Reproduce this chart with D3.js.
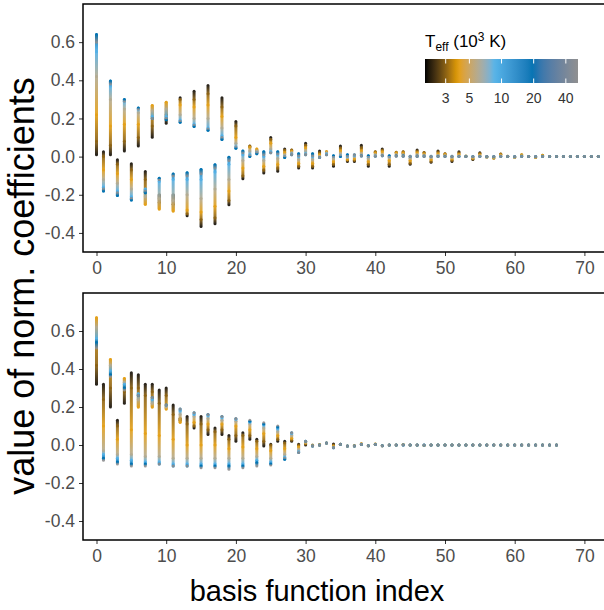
<!DOCTYPE html>
<html>
<head>
<meta charset="utf-8">
<script src="https://cdn.jsdelivr.net/npm/d3@7"></script>
<style>
  body { margin: 0; background: #fff; }
  svg text { font-family: "Liberation Sans", Arial, sans-serif; }
</style>
</head>
<body>
<svg></svg>
<script>
var teffAnchors = [2, 3, 4, 6, 9, 20, 50];

//  top panel: coefficient value per basis function, one entry per Teff anchor
var topCoefs = [
    [0.01, 0.08, 0.22, 0.42, 0.55, 0.64, 0.60],
    [0.026, 0.0, -0.07, -0.12, -0.16, -0.18, -0.17],
    [0.01, 0.06, 0.16, 0.30, 0.37, 0.396, 0.38],
    [-0.017, -0.04, -0.09, -0.14, -0.18, -0.204, -0.19],
    [0.03, 0.08, 0.17, 0.25, 0.29, 0.30, 0.29],
    [-0.038, -0.07, -0.12, -0.17, -0.21, -0.227, -0.22],
    [0.056, 0.10, 0.17, 0.23, 0.25, 0.255, 0.25],
    [-0.078, -0.12, -0.25, -0.21, -0.17, -0.19, -0.18],
    [0.102, 0.16, 0.268, 0.24, 0.21, 0.20, 0.20],
    [-0.20, -0.24, -0.274, -0.22, -0.13, -0.114, -0.12],
    [0.175, 0.22, 0.285, 0.25, 0.21, 0.193, 0.20],
    [-0.20, -0.25, -0.285, -0.23, -0.12, -0.091, -0.10],
    [0.308, 0.30, 0.27, 0.22, 0.19, 0.18, 0.185],
    [-0.31, -0.30, -0.28, -0.20, -0.12, -0.084, -0.10],
    [0.343, 0.30, 0.26, 0.20, 0.17, 0.158, 0.165],
    [-0.366, -0.33, -0.29, -0.22, -0.12, -0.068, -0.09],
    [0.373, 0.33, 0.27, 0.20, 0.15, 0.138, 0.145],
    [-0.352, -0.32, -0.26, -0.17, -0.08, -0.042, -0.06],
    [0.308, 0.26, 0.21, 0.15, 0.11, 0.09, 0.10],
    [-0.252, -0.23, -0.18, -0.12, -0.04, -0.003, -0.02],
    [0.184, 0.16, 0.10, 0.07, 0.05, 0.044, 0.05],
    [-0.116, -0.10, -0.06, -0.02, 0.01, 0.03, 0.02],
    [0.05, 0.055, 0.05, 0.03, 0.01, 0.0, 0.005],
    [0.02, 0.03, 0.04, 0.03, 0.02, 0.015, 0.02],
    [-0.086, -0.07, -0.05, -0.02, 0.0, 0.025, 0.01],
    [0.10, 0.09, 0.07, 0.04, 0.025, 0.02, 0.02],
    [-0.077, -0.06, -0.04, -0.01, 0.01, 0.025, 0.015],
    [0.04, 0.035, 0.02, 0.01, 0.0, -0.005, 0.0],
    [0.03, 0.035, 0.03, 0.02, 0.015, 0.01, 0.012],
    [-0.06, -0.05, -0.035, -0.015, 0.0, 0.015, 0.005],
    [0.07, 0.06, 0.045, 0.03, 0.015, 0.01, 0.012],
    [-0.06, -0.05, -0.035, -0.015, 0.0, 0.015, 0.005],
    [0.03, 0.02, 0.01, 0.0, -0.005, -0.005, -0.005],
    [0.02, 0.025, 0.025, 0.02, 0.015, 0.01, 0.01],
    [-0.05, -0.04, -0.025, -0.01, 0.0, 0.005, 0.0],
    [0.055, 0.045, 0.03, 0.015, 0.005, 0.0, 0.003],
    [-0.025, -0.02, -0.015, -0.005, 0.0, 0.01, 0.005],
    [-0.025, -0.02, -0.012, 0.0, 0.005, 0.01, 0.008],
    [0.06, 0.045, 0.03, 0.015, 0.005, 0.003, 0.005],
    [-0.05, -0.04, -0.025, -0.01, 0.0, 0.005, 0.002],
    [0.02, 0.025, 0.02, 0.01, 0.005, 0.002, 0.003],
    [0.04, 0.035, 0.025, 0.01, 0.005, 0.005, 0.005],
    [-0.05, -0.04, -0.02, -0.005, 0.0, 0.005, 0.002],
    [0.02, 0.023, 0.02, 0.01, 0.005, 0.003, 0.002],
    [0.015, 0.025, 0.02, 0.01, 0.004, 0.002, 0.002],
    [-0.04, -0.035, -0.02, -0.008, 0.0, 0.002, 0.001],
    [0.035, 0.03, 0.02, 0.01, 0.003, 0.001, 0.002],
    [0.02, 0.022, 0.015, 0.008, 0.003, 0.001, 0.002],
    [-0.03, -0.025, -0.015, -0.005, 0.0, 0.002, 0.001],
    [0.03, 0.025, 0.015, 0.007, 0.002, 0.0, 0.001],
    [0.012, 0.015, 0.012, 0.006, 0.002, 0.0, 0.001],
    [-0.025, -0.02, -0.012, -0.004, 0.0, 0.002, 0.001],
    [0.025, 0.02, 0.012, 0.005, 0.001, 0.0, 0.001],
    [0.0, 0.002, 0.003, 0.002, 0.001, 0.0, 0.001],
    [-0.015, -0.012, -0.008, -0.003, 0.0, 0.001, 0.001],
    [0.02, 0.017, 0.01, 0.004, 0.001, 0.0, 0.001],
    [0.0, -0.002, -0.003, -0.001, 0.0, 0.0, 0.001],
    [-0.008, -0.007, -0.005, -0.002, 0.0, 0.0, 0.001],
    [0.012, 0.014, 0.01, 0.004, 0.001, 0.0, 0.001],
    [0.001, 0.002, 0.002, 0.001, 0.001, 0.0, 0.001],
    [-0.005, -0.004, -0.003, -0.001, 0.0, 0.0, 0.001],
    [0.008, 0.01, 0.008, 0.003, 0.001, 0.0, 0.001],
    [0, 0, 0, 0, 0, 0, 0],
    [-0.004, -0.004, -0.002, 0, 0, 0, 0],
    [0.006, 0.007, 0.005, 0.002, 0, 0, 0],
    [0, 0, 0, 0, 0, 0, 0],
    [0, 0, 0, 0, 0, 0, 0],
    [0, 0, 0, 0, 0, 0, 0],
    [0, 0, 0, 0, 0, 0, 0],
    [0, 0, 0, 0, 0, 0, 0],
    [0, 0, 0, 0, 0, 0, 0],
    [0, 0, 0, 0, 0, 0, 0],
    [0, 0, 0, 0, 0, 0, 0]
];

//  bottom panel
var bottomCoefs = [
    [0.32, 0.42, 0.67, 0.62, 0.56, 0.54, 0.51],
    [0.32, 0.24, 0.10, -0.03, -0.05, -0.07, -0.08],
    [0.20, 0.30, 0.45, 0.42, 0.39, 0.37, 0.36],
    [0.13, 0.10, 0.03, -0.05, -0.07, -0.09, -0.10],
    [0.22, 0.28, 0.35, 0.33, 0.32, 0.30, 0.29],
    [0.38, 0.30, 0.08, -0.05, -0.08, -0.10, -0.11],
    [0.37, 0.30, 0.20, 0.24, 0.27, 0.26, 0.26],
    [0.32, 0.26, 0.06, -0.06, -0.09, -0.10, -0.11],
    [0.32, 0.28, 0.20, 0.22, 0.24, 0.25, 0.25],
    [0.29, 0.22, 0.05, -0.06, -0.09, -0.10, -0.10],
    [0.30, 0.26, 0.19, 0.20, 0.21, 0.21, 0.21],
    [0.21, 0.16, 0.03, -0.07, -0.10, -0.11, -0.11],
    [0.13, 0.14, 0.12, 0.16, 0.18, 0.19, 0.19],
    [0.15, 0.11, 0.0, -0.07, -0.10, -0.11, -0.11],
    [0.09, 0.10, 0.12, 0.15, 0.16, 0.17, 0.17],
    [0.15, 0.11, 0.0, -0.07, -0.10, -0.11, -0.12],
    [0.055, 0.08, 0.11, 0.14, 0.155, 0.16, 0.16],
    [0.09, 0.07, 0.0, -0.07, -0.10, -0.11, -0.12],
    [0.055, 0.08, 0.11, 0.13, 0.145, 0.15, 0.15],
    [0.05, 0.03, -0.02, -0.07, -0.10, -0.11, -0.128],
    [0.02, 0.05, 0.10, 0.125, 0.135, 0.138, 0.14],
    [0.065, 0.05, -0.01, -0.07, -0.10, -0.11, -0.12],
    [0.03, 0.05, 0.08, 0.11, 0.12, 0.125, 0.13],
    [0.03, 0.02, -0.02, -0.06, -0.08, -0.093, -0.11],
    [-0.005, 0.02, 0.06, 0.09, 0.105, 0.11, 0.117],
    [0.004, 0.0, -0.03, -0.07, -0.09, -0.10, -0.105],
    [0.02, 0.03, 0.05, 0.07, 0.085, 0.095, 0.10],
    [0.02, 0.01, -0.02, -0.05, -0.065, -0.075, -0.07],
    [0.02, 0.025, 0.035, 0.05, 0.06, 0.065, 0.065],
    [0.004, 0.0, -0.01, -0.025, -0.035, -0.04, -0.04],
    [0.0, 0.005, 0.01, 0.015, 0.02, 0.02, 0.02],
    [0.0, -0.002, -0.004, -0.005, -0.005, -0.005, -0.005],
    [0.0, 0.002, 0.0, 0.0, 0.0, 0.0, 0.0],
    [0.01, 0.01, 0.01, 0.01, 0.01, 0.01, 0.01],
    [0.005, 0.0, -0.005, -0.01, -0.014, -0.014, -0.014],
    [0.004, 0.004, 0.004, 0.004, 0.004, 0.004, 0.004],
    [-0.005, -0.005, -0.005, -0.005, -0.005, -0.005, -0.005],
    [-0.002, -0.004, -0.005, -0.005, -0.005, -0.005, -0.005],
    [0.006, 0.006, 0.004, 0.003, 0.003, 0.003, 0.003],
    [-0.004, -0.004, -0.004, -0.004, -0.004, -0.004, -0.004],
    [0.004, 0.005, 0.004, 0.002, 0.002, 0.002, 0.002],
    [-0.004, -0.004, -0.004, -0.004, -0.004, -0.004, -0.004],
    [0, 0, 0, 0, 0, 0, 0],
    [0, 0, 0, 0, 0, 0, 0],
    [0.002, 0.003, 0.002, 0, 0, 0, 0],
    [0, 0, 0, 0, 0, 0, 0],
    [0, 0, 0, 0, 0, 0, 0],
    [-0.003, -0.003, -0.002, 0, 0, 0, 0],
    [0, 0, 0, 0, 0, 0, 0],
    [0, 0, 0, 0, 0, 0, 0],
    [0, 0, 0, 0, 0, 0, 0],
    [0, 0, 0, 0, 0, 0, 0],
    [0, 0, 0, 0, 0, 0, 0],
    [0, 0, 0, 0, 0, 0, 0],
    [0, 0, 0, 0, 0, 0, 0],
    [0, 0, 0, 0, 0, 0, 0],
    [0, 0, 0, 0, 0, 0, 0],
    [0, 0, 0, 0, 0, 0, 0],
    [0, 0, 0, 0, 0, 0, 0],
    [0, 0, 0, 0, 0, 0, 0],
    [0, 0, 0, 0, 0, 0, 0],
    [0, 0, 0, 0, 0, 0, 0],
    [0, 0, 0, 0, 0, 0, 0],
    [0, 0, 0, 0, 0, 0, 0],
    [0, 0, 0, 0, 0, 0, 0],
    [0, 0, 0, 0, 0, 0, 0],
    [0, 0, 0, 0, 0, 0, 0]
];

//  axis ticks and legend
var xTicks = [0, 10, 20, 30, 40, 50, 60, 70];
var yTicks = [-0.4, -0.2, 0.0, 0.2, 0.4, 0.6];
var legendTicks = [3, 5, 10, 20, 40];
var teffRange = [1.92, 52];
var colorStops = [1.92, 3.9, 8.6, 20, 52];
var colorRange = ["#000000", "#E69F00", "#56B4E9", "#0072B2", "#909090"];

var width = 604, height = 610;
var svg = d3.select("svg").attr("width", width).attr("height", height);
var defs = svg.append("defs");

var left = 83, right = 604;

//  d3 color scale (log Teff, Lab interpolation like ggplot)
var color = d3.scaleLog()
    .domain(colorStops)
    .range(colorRange)
    .interpolate(d3.interpolateLab);

var x = d3.scaleLinear().domain([0, 70]).range([96.5, 584.4]);

var panels = [
    {coefs: topCoefs, top: 4, bottom: 252, id: "t"},
    {coefs: bottomCoefs, top: 293, bottom: 540, id: "b"}
];

panels.forEach(function(p) {
    var y = d3.scaleLinear().domain([-0.5, 0.8]).range([p.bottom, p.top]);

    var g = svg.append("g");

    //  one gradient segment per pair of neighbouring Teff anchors, hotter drawn last
    for (var k = 0; k < teffAnchors.length - 1; k++) {
        p.coefs.forEach(function(vals, i) {
            var cx = x(i), y1 = y(vals[k]), y2 = y(vals[k + 1]);
            var stroke;
            if (Math.abs(y1 - y2) < 0.5) {
                stroke = color(teffAnchors[k + 1]);
            } else {
                var gid = "g" + p.id + "_" + i + "_" + k;
                var grad = defs.append("linearGradient")
                    .attr("id", gid)
                    .attr("gradientUnits", "userSpaceOnUse")
                    .attr("x1", cx).attr("x2", cx)
                    .attr("y1", y1).attr("y2", y2);
                grad.append("stop").attr("offset", 0).attr("stop-color", color(teffAnchors[k]));
                grad.append("stop").attr("offset", 1).attr("stop-color", color(teffAnchors[k + 1]));
                stroke = "url(#" + gid + ")";
            }
            g.append("line")
                .attr("x1", cx).attr("x2", cx)
                .attr("y1", y1).attr("y2", y2)
                .attr("stroke", stroke)
                .attr("stroke-width", 3)
                .attr("stroke-linecap", "round")
                .attr("opacity", 0.9);
        });
    }

    //  y axis
    var yAxis = svg.append("g")
        .attr("transform", "translate(" + left + ",0)")
        .call(d3.axisLeft(y).tickValues(yTicks).tickSize(4).tickPadding(4)
            .tickFormat(function(d) { return d.toFixed(1); }));
    yAxis.select(".domain").remove();

    //  x axis
    var xAxis = svg.append("g")
        .attr("transform", "translate(0," + p.bottom + ")")
        .call(d3.axisBottom(x).tickValues(xTicks).tickSize(4).tickPadding(6));
    xAxis.select(".domain").remove();

    [yAxis, xAxis].forEach(function(a) {
        a.attr("font-family", null).attr("font-size", null);
        a.selectAll(".tick line").attr("stroke", "#333333").attr("stroke-width", 1);
        a.selectAll(".tick text")
            .attr("fill", "#4D4D4D")
            .style("font-size", "17.5px");
    });

    //  frame: top, left and bottom lines
    svg.append("path")
        .attr("d", "M" + right + "," + p.top + "H" + left + "V" + p.bottom + "H" + right)
        .attr("fill", "none")
        .attr("stroke", "#000")
        .attr("stroke-width", 1.5);
});

//  axis titles
svg.append("text")
    .attr("x", 317)
    .attr("y", 601)
    .attr("text-anchor", "middle")
    .style("font-size", "29px")
    .text("basis function index");

svg.append("text")
    .attr("transform", "translate(34,286) rotate(-90)")
    .attr("text-anchor", "middle")
    .style("font-size", "36px")
    .text("value of norm. coefficients");

//  legend colour bar
var lx = d3.scaleLog().domain(teffRange).range([425, 578]);
var lgrad = defs.append("linearGradient").attr("id", "legendGrad");
d3.range(0, 41).forEach(function(s) {
    var t = lx.invert(425 + s / 40 * 153);
    lgrad.append("stop").attr("offset", s / 40).attr("stop-color", color(t));
});

var legend = svg.append("g");
legend.append("rect")
    .attr("x", 425).attr("y", 59)
    .attr("width", 153).attr("height", 24)
    .attr("fill", "url(#legendGrad)");

legendTicks.forEach(function(t) {
    legend.append("line")
        .attr("x1", lx(t)).attr("x2", lx(t))
        .attr("y1", 59).attr("y2", 63.5)
        .attr("stroke", "#fff").attr("stroke-width", 1);
    legend.append("line")
        .attr("x1", lx(t)).attr("x2", lx(t))
        .attr("y1", 78.5).attr("y2", 83)
        .attr("stroke", "#fff").attr("stroke-width", 1);
    legend.append("text")
        .attr("x", lx(t)).attr("y", 103)
        .attr("text-anchor", "middle")
        .attr("fill", "#333")
        .style("font-size", "14px")
        .text(t);
});

var title = legend.append("text")
    .attr("x", 425).attr("y", 47)
    .style("font-size", "17px");
title.append("tspan").text("T");
title.append("tspan").attr("dy", 4).style("font-size", "12px").text("eff");
title.append("tspan").attr("dy", -4).text(" (10");
title.append("tspan").attr("dy", -6).style("font-size", "12px").text("3");
title.append("tspan").attr("dy", 6).text(" K)");
</script>
</body>
</html>
